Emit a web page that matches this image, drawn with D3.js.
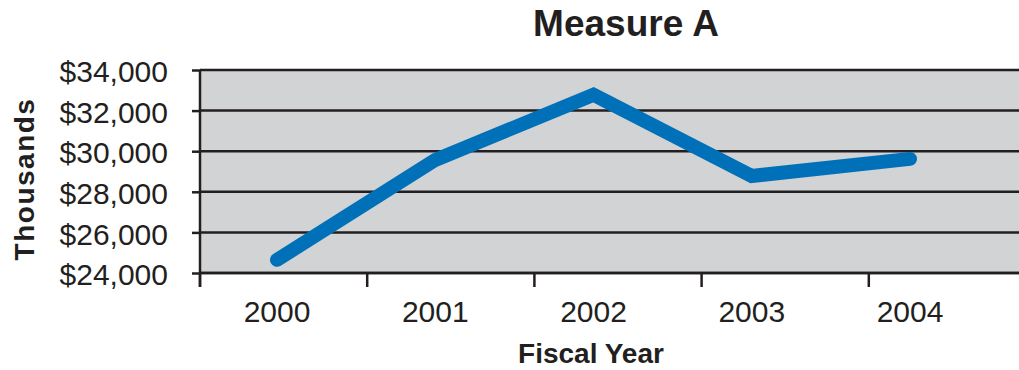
<!DOCTYPE html>
<html>
<head>
<meta charset="utf-8">
<script src="https://cdn.jsdelivr.net/npm/d3@7"></script>
<style>
  html, body { margin: 0; padding: 0; background: #fff; }
  svg { display: block; }
  text { font-family: "Liberation Sans", Arial, Helvetica, sans-serif; fill: #231f20; }
</style>
</head>
<body>
<svg id="chart" width="1019" height="370"></svg>
<script>
// Fiscal years and the measure's value for each (in thousands of dollars)
const years = ["2000", "2001", "2002", "2003", "2004"];
const measureA = [24650, 29570, 32780, 28780, 29620];
const yTicks = [24000, 26000, 28000, 30000, 32000, 34000];

const plot = { left: 200, top: 70, bottom: 273, right: 1036 };
const ink = "#231f20";

const svg = d3.select("#chart");

const y = d3.scaleLinear().domain([24000, 34000]).range([plot.bottom, plot.top]);
// category slots (tick marks sit on slot boundaries)
const xBand = d3.scaleBand().domain(years).range([plot.left, plot.right]);
// category positions for the labels and the line
const xPoint = d3.scalePoint().domain(years).range([277, 910]);

// plot background
svg.append("rect")
  .attr("x", plot.left).attr("y", plot.top)
  .attr("width", plot.right - plot.left).attr("height", plot.bottom - plot.top)
  .attr("fill", "#d1d3d4");

// horizontal gridlines
svg.append("g").selectAll("line").data(yTicks).join("line")
  .attr("x1", plot.left).attr("x2", plot.right)
  .attr("y1", d => y(d)).attr("y2", d => y(d))
  .attr("stroke", ink).attr("stroke-width", 2.5);

// y axis
const fmt = d => "$" + d3.format(",")(d);
const yAxis = svg.append("g")
  .attr("transform", `translate(${plot.left},0)`)
  .call(d3.axisLeft(y).tickValues(yTicks).tickFormat(fmt).tickSize(8).tickPadding(24));
yAxis.select(".domain").attr("stroke", ink).attr("stroke-width", 2.5)
  .attr("d", `M0,${plot.top}V${plot.bottom + 14}`);
yAxis.selectAll(".tick line").attr("stroke", ink).attr("stroke-width", 2.5);
yAxis.selectAll(".tick text")
  .attr("font-size", 30).attr("fill", ink).attr("y", 2)
  .style("font-family", '"Liberation Sans", Arial, sans-serif');

// x axis line, slot ticks and year labels
const xg = svg.append("g");
xg.append("line")
  .attr("x1", plot.left).attr("x2", plot.right)
  .attr("y1", plot.bottom).attr("y2", plot.bottom)
  .attr("stroke", ink).attr("stroke-width", 2.5);
const bounds = years.map(d => xBand(d)).concat([xBand.range()[1]]);
xg.selectAll("line.tk").data(bounds).join("line").attr("class", "tk")
  .attr("x1", d => d).attr("x2", d => d)
  .attr("y1", plot.bottom).attr("y2", plot.bottom + 14)
  .attr("stroke", ink).attr("stroke-width", 2.5);
xg.selectAll("text").data(years).join("text")
  .attr("x", d => xPoint(d)).attr("y", 322)
  .attr("text-anchor", "middle").attr("font-size", 30)
  .text(d => d);

// the measure line
const line = d3.line()
  .x((d, i) => xPoint(years[i]))
  .y(d => y(d));
svg.append("path")
  .datum(measureA)
  .attr("d", line)
  .attr("fill", "none")
  .attr("stroke", "#0071b9")
  .attr("stroke-width", 14)
  .attr("stroke-linecap", "round")
  .attr("stroke-linejoin", "miter");

// titles
svg.append("text")
  .attr("x", 626).attr("y", 36)
  .attr("text-anchor", "middle").attr("font-size", 37).attr("font-weight", "bold")
  .text("Measure A");

svg.append("text")
  .attr("x", 591).attr("y", 363)
  .attr("text-anchor", "middle").attr("font-size", 28).attr("font-weight", "bold")
  .text("Fiscal Year");

svg.append("text")
  .attr("transform", "translate(34,179) rotate(-90)")
  .attr("text-anchor", "middle").attr("font-size", 28).attr("font-weight", "bold")
  .attr("letter-spacing", 1.5)
  .text("Thousands");
</script>
</body>
</html>
